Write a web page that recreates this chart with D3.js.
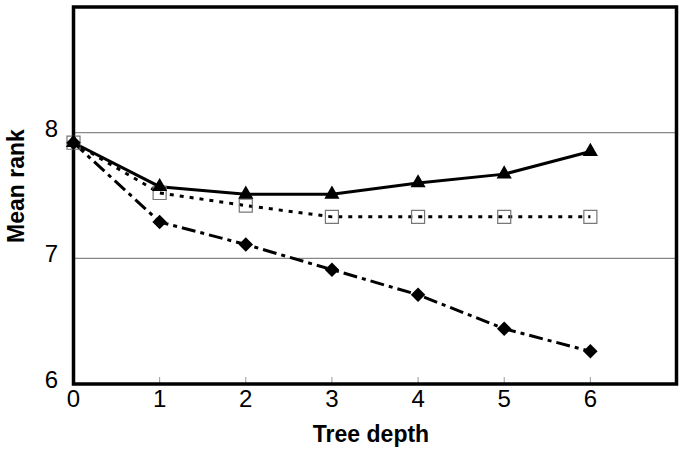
<!DOCTYPE html>
<html>
<head>
<meta charset="utf-8" />
<title>Mean rank vs tree depth</title>
<script src="https://d3js.org/d3.v7.min.js"></script>
<style>
  body { margin: 0; background: #fff; font-family: "Liberation Sans", Arial, sans-serif; }
  .tick-label { font-size: 24px; fill: #000; }
  .title { font-size: 23px; font-weight: bold; fill: #000; }
</style>
</head>
<body>
<div id="chart"></div>
<script>
// data
var depths = [0, 1, 2, 3, 4, 5, 6];
var solidTri = [7.92, 7.57, 7.51, 7.51, 7.60, 7.67, 7.85];
var dottedSq = [7.92, 7.52, 7.42, 7.33, 7.33, 7.33, 7.33];
var dashDia  = [7.92, 7.29, 7.11, 6.91, 6.71, 6.44, 6.26];
var xTicks = [0, 1, 2, 3, 4, 5, 6];
var yTicks = [6, 7, 8];

var W = 685, H = 449;
var svg = d3.select("#chart").append("svg").attr("width", W).attr("height", H);

var x = d3.scaleLinear().domain([0, 7]).range([73.5, 676.5]);
var y = d3.scaleLinear().domain([6, 9]).range([384, 7]);

// gridlines
svg.append("g").selectAll("line").data([7, 8]).enter().append("line")
  .attr("x1", x(0)).attr("x2", x(7))
  .attr("y1", function (d) { return y(d); }).attr("y2", function (d) { return y(d); })
  .attr("stroke", "#888").attr("stroke-width", 1.2);

// inward ticks on x axis
svg.append("g").selectAll("line").data(xTicks.slice(1)).enter().append("line")
  .attr("x1", function (d) { return x(d); }).attr("x2", function (d) { return x(d); })
  .attr("y1", y(6)).attr("y2", y(6) - 7)
  .attr("stroke", "#999").attr("stroke-width", 1);

// frame
svg.append("rect")
  .attr("x", x(0)).attr("y", y(9))
  .attr("width", x(7) - x(0)).attr("height", y(6) - y(9))
  .attr("fill", "none").attr("stroke", "#000").attr("stroke-width", 3.5);

// tick labels
svg.append("g").selectAll("text").data(xTicks).enter().append("text")
  .attr("class", "tick-label")
  .attr("x", function (d) { return x(d); }).attr("y", 407)
  .attr("text-anchor", "middle")
  .text(function (d) { return d; });

svg.append("g").selectAll("text").data(yTicks).enter().append("text")
  .attr("class", "tick-label")
  .attr("x", 58).attr("y", function (d) { return y(d) + 4; })
  .attr("text-anchor", "end")
  .text(function (d) { return d; });

// axis titles
svg.append("text").attr("class", "title")
  .attr("x", 371).attr("y", 442).attr("text-anchor", "middle")
  .text("Tree depth");
svg.append("text").attr("class", "title")
  .attr("transform", "translate(24,186) rotate(-90)")
  .attr("text-anchor", "middle")
  .text("Mean rank");

function series(vals, dash) {
  var line = d3.line()
    .x(function (d, i) { return x(depths[i]); })
    .y(function (d) { return y(d); });
  svg.append("path").datum(vals)
    .attr("d", line)
    .attr("fill", "none").attr("stroke", "#000").attr("stroke-width", 3)
    .attr("stroke-dasharray", dash);
}

series(dashDia, "14,5,4,5");
series(dottedSq, "4,6");
series(solidTri, null);

// markers
var sq = d3.symbol().type(d3.symbolSquare).size(170);
svg.append("g").selectAll("path").data(dottedSq).enter().append("path")
  .attr("d", sq)
  .attr("transform", function (d, i) { return "translate(" + x(depths[i]) + "," + y(d) + ")"; })
  .attr("fill", "none").attr("stroke", "#777").attr("stroke-width", 1.2);

// diamond = square rotated 45 degrees
var dia = d3.symbol().type(d3.symbolSquare).size(105);
svg.append("g").selectAll("path").data(dashDia).enter().append("path")
  .attr("d", dia)
  .attr("transform", function (d, i) { return "translate(" + x(depths[i]) + "," + y(d) + ") rotate(45)"; })
  .attr("fill", "#000");

var tri = d3.symbol().type(d3.symbolTriangle).size(100);
svg.append("g").selectAll("path").data(solidTri).enter().append("path")
  .attr("d", tri)
  .attr("transform", function (d, i) { return "translate(" + x(depths[i]) + "," + y(d) + ")"; })
  .attr("fill", "#000");
</script>
</body>
</html>
